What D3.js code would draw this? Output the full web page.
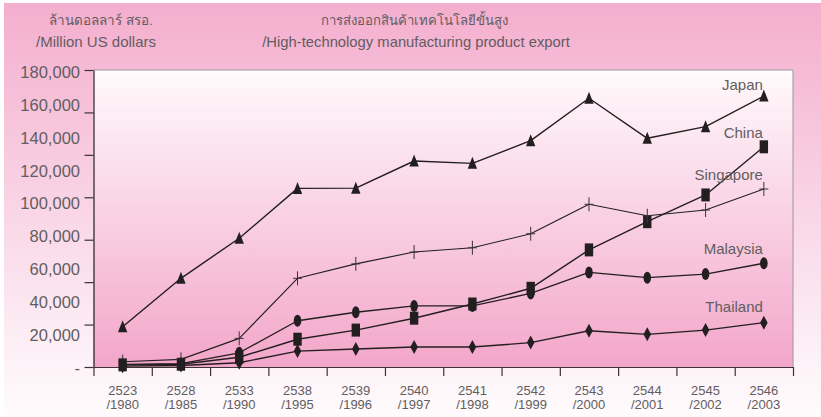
<!DOCTYPE html>
<html>
<head>
<meta charset="utf-8">
<script src="https://cdn.jsdelivr.net/npm/d3@7"></script>
<style>
  html, body { margin: 0; padding: 0; background: #ffffff; }
  svg { display: block; }
  text { font-family: 'Liberation Sans Narrow', 'Liberation Sans', 'Noto Sans', sans-serif; fill: #635d60; }
</style>
</head>
<body>
<svg id="chart" width="821" height="417"></svg>
<script>
// Buddhist-era and Common-era years along the bottom
const yearsBE = ["2523", "2528", "2533", "2538", "2539", "2540", "2541", "2542", "2543", "2544", "2545", "2546"];
const yearsCE = ["/1980", "/1985", "/1990", "/1995", "/1996", "/1997", "/1998", "/1999", "/2000", "/2001", "/2002", "/2003"];

// High-technology manufacturing exports, million US dollars
const japan     = [19000, 41800, 60700, 84200, 84300, 97100, 96000, 106700, 126700, 107800, 113300, 127700];
const china     = [1000, 1300, 4600, 13100, 17400, 23000, 29700, 37100, 55200, 68500, 81100, 103800];
const singapore = [2500, 3600, 13500, 41800, 48600, 54200, 56200, 62800, 76700, 71300, 74000, 83900];
const malaysia  = [1200, 1600, 6700, 21800, 25800, 28800, 28800, 34700, 44600, 42100, 43800, 48900];
const thailand  = [400, 700, 2000, 7500, 8500, 9400, 9400, 11500, 17100, 15400, 17400, 20900];

// Printed value-axis labels, top to bottom
const yTickLabels = ["180,000", "160,000", "140,000", "120,000", "100,000", "80,000", "60,000", "40,000", "20,000", "-"];

const series = [
  { name: "Japan",     values: japan,     marker: "triangle", width: 1.4, labelDy: -6 },
  { name: "China",     values: china,     marker: "square",   width: 1.4, labelDy: -9 },
  { name: "Singapore", values: singapore, marker: "plus",     width: 1.1, labelDy: -9 },
  { name: "Malaysia",  values: malaysia,  marker: "ellipse",  width: 1.3, labelDy: -9 },
  { name: "Thailand",  values: thailand,  marker: "diamond",  width: 1.4, labelDy: -11 }
];

const svg = d3.select("#chart");
const W = 821, H = 417;
const plot = { left: 93.5, right: 793, top: 70, bottom: 367 };
const ink = "#231f20";

// ---- backgrounds ----
const defs = svg.append("defs");
const outerGrad = defs.append("linearGradient").attr("id", "outerGrad")
  .attr("x1", 0).attr("y1", 0).attr("x2", 0).attr("y2", 1);
outerGrad.append("stop").attr("offset", "0%").attr("stop-color", "#f4aece");
outerGrad.append("stop").attr("offset", "88%").attr("stop-color", "#fdf3f8");
outerGrad.append("stop").attr("offset", "100%").attr("stop-color", "#fffbfd");

const plotGrad = defs.append("linearGradient").attr("id", "plotGrad")
  .attr("x1", 0).attr("y1", 0).attr("x2", 0).attr("y2", 1);
plotGrad.append("stop").attr("offset", "0%").attr("stop-color", "#fffafc");
plotGrad.append("stop").attr("offset", "100%").attr("stop-color", "#f3a6ca");

svg.append("rect").attr("x", 4).attr("y", 3).attr("width", W - 4).attr("height", H - 3)
  .attr("fill", "url(#outerGrad)");

svg.append("rect")
  .attr("x", plot.left).attr("y", plot.top)
  .attr("width", plot.right - plot.left).attr("height", plot.bottom - plot.top)
  .attr("fill", "url(#plotGrad)");

// frame on the top and right of the plot
svg.append("path")
  .attr("d", `M${plot.left},${plot.top}H${plot.right}V${plot.bottom}`)
  .attr("fill", "none").attr("stroke", "#9c9698").attr("stroke-width", 1);

// ---- scales ----
const x = d3.scaleBand().domain(yearsBE).range([plot.left, plot.right]).padding(0);
const xEdge = d3.scaleLinear().domain([0, yearsBE.length]).range([plot.left, plot.right]);
const y = d3.scaleLinear().domain([0, 140000]).range([plot.bottom, plot.top]);
const yLabel = d3.scalePoint().domain(yTickLabels).range([72, 368]);
const cx = (i) => x(yearsBE[i]) + x.bandwidth() / 2;

// ---- axes ----
const yAxis = svg.append("g").attr("transform", `translate(${plot.left},0)`)
  .call(d3.axisLeft(y).tickValues(d3.range(0, 140001, 20000)).tickSize(9).tickSizeOuter(0).tickFormat(""));
yAxis.select(".domain").attr("stroke", ink).attr("stroke-width", 1.2);
yAxis.selectAll(".tick line").attr("stroke", "#3a3436").attr("stroke-width", 1.2);

const xAxis = svg.append("g").attr("transform", `translate(0,${plot.bottom})`)
  .call(d3.axisBottom(xEdge).tickValues(d3.range(0, yearsBE.length + 1)).tickSize(9).tickSizeOuter(0).tickFormat(""));
xAxis.select(".domain").attr("stroke", "#3a3436").attr("stroke-width", 1.2);
xAxis.selectAll(".tick line").attr("stroke", "#3a3436").attr("stroke-width", 1.2);

// value labels on the left
svg.append("g").selectAll("text").data(yTickLabels).join("text")
  .attr("x", 80).attr("y", d => yLabel(d)).attr("dy", "0.36em")
  .attr("text-anchor", "end").attr("font-size", 16.5)
  .text(d => d);

// year labels below
const xl = svg.append("g").selectAll("g").data(yearsBE).join("g")
  .attr("transform", (d) => `translate(${x(d) + x.bandwidth() / 2},0)`);
xl.append("text").attr("y", 394.5).attr("text-anchor", "middle").attr("font-size", 13).text(d => d);
xl.append("text").attr("y", 409.3).attr("text-anchor", "middle").attr("font-size", 13)
  .text((d, i) => yearsCE[i]);

// ---- titles ----
svg.append("text").attr("x", 101).attr("y", 25).attr("text-anchor", "middle").attr("font-size", 13.5)
  .text("ล้านดอลลาร์ สรอ.");
svg.append("text").attr("x", 96).attr("y", 47).attr("text-anchor", "middle").attr("font-size", 15)
  .text("/Million US dollars");
svg.append("text").attr("x", 414).attr("y", 25).attr("text-anchor", "middle").attr("font-size", 13.2)
  .text("การส่งออกสินค้าเทคโนโลยีขั้นสูง");
svg.append("text").attr("x", 416).attr("y", 47).attr("text-anchor", "middle").attr("font-size", 14.8)
  .text("/High-technology manufacturing product export");

// ---- marker shapes ----
function markerPath(kind) {
  switch (kind) {
    case "triangle": return "M0,-6.5L4.7,5.5L-4.7,5.5Z";
    case "square":   return "M-4.2,-6.5H4.2V6.5H-4.2Z";
    case "diamond":  return "M0,-7L3.8,0L0,7L-3.8,0Z";
    case "ellipse":  return "M-3.8,0A3.8,6 0 1,0 3.8,0A3.8,6 0 1,0 -3.8,0Z";
    case "plus":     return "M-4.5,0H4.5M0,-7V7";
  }
}

// ---- lines and markers ----
const line = d3.line().x((d, i) => cx(i)).y(d => y(d));
const gSeries = svg.append("g").selectAll("g").data(series).join("g");

gSeries.append("path")
  .attr("d", s => line(s.values))
  .attr("fill", "none").attr("stroke", ink)
  .attr("stroke-width", s => s.width).attr("stroke-linejoin", "round");

gSeries.each(function (s) {
  d3.select(this).selectAll("path.mk").data(s.values).join("path")
    .attr("class", "mk")
    .attr("transform", (d, i) => `translate(${cx(i)},${y(d)})`)
    .attr("d", markerPath(s.marker))
    .attr("fill", s.marker === "plus" ? "none" : ink)
    .attr("stroke", s.marker === "plus" ? "#3a3436" : "none")
    .attr("stroke-width", 1);
});

// series names near the 2003 point
gSeries.append("text")
  .attr("x", cx(yearsBE.length - 1) - 1)
  .attr("y", s => y(s.values[s.values.length - 1]) + s.labelDy)
  .attr("text-anchor", "end").attr("font-size", 15)
  .text(s => s.name);
</script>
</body>
</html>
